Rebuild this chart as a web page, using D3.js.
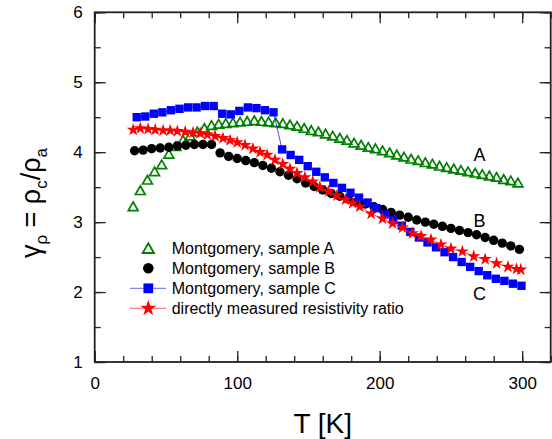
<!DOCTYPE html>
<html>
<head>
<meta charset="utf-8">
<script src="https://cdn.jsdelivr.net/npm/d3@7"></script>
<style>
body { margin: 0; background: #fff; }
svg { font-family: "Liberation Sans", Arial, sans-serif; }
</style>
</head>
<body>
<div id="chart"></div>
<script>
// Montgomery, sample A (open triangles)
var sampleA_T = [27, 32, 37, 42, 47, 52, 57, 62, 67, 72, 77, 82, 87, 92, 97, 102, 107, 112, 117, 122, 127, 132, 137, 142, 147, 152, 157, 162, 167, 172, 177, 182, 187, 192, 197, 202, 207, 212, 217, 222, 227, 232, 237, 242, 247, 252, 257, 262, 267, 272, 277, 282, 287, 292, 297];
var sampleA_V = [3.22, 3.45, 3.60, 3.72, 3.82, 3.97, 4.08, 4.17, 4.23, 4.29, 4.34, 4.38, 4.40, 4.41, 4.42, 4.43, 4.44, 4.45, 4.44, 4.43, 4.42, 4.41, 4.39, 4.37, 4.34, 4.31, 4.29, 4.26, 4.23, 4.20, 4.17, 4.13, 4.10, 4.07, 4.05, 4.02, 3.99, 3.96, 3.93, 3.90, 3.88, 3.85, 3.83, 3.80, 3.78, 3.76, 3.74, 3.72, 3.70, 3.68, 3.66, 3.64, 3.61, 3.59, 3.56];

// Montgomery, sample B (filled circles)
var sampleB_T = [28, 34, 40, 46, 52, 58, 64, 70, 76, 82, 88, 94, 100, 106, 112, 118, 124, 130, 136, 142, 148, 154, 160, 166, 172, 178, 184, 190, 196, 202, 208, 214, 220, 226, 232, 238, 244, 250, 256, 262, 268, 274, 280, 286, 292, 298];
var sampleB_V = [4.02, 4.03, 4.05, 4.06, 4.07, 4.09, 4.10, 4.11, 4.11, 4.11, 3.99, 3.94, 3.91, 3.88, 3.85, 3.81, 3.77, 3.72, 3.67, 3.62, 3.56, 3.51, 3.46, 3.41, 3.37, 3.33, 3.29, 3.26, 3.22, 3.18, 3.14, 3.10, 3.07, 3.03, 3.00, 2.97, 2.94, 2.91, 2.88, 2.85, 2.82, 2.78, 2.74, 2.70, 2.66, 2.61];

// Montgomery, sample C (filled squares + line)
var sampleC_T = [29.5, 35.5, 41.5, 47.5, 53.5, 59.5, 65.5, 71.5, 77.5, 83.5, 89.5, 95.5, 101.5, 107.5, 113.5, 119.5, 125.5, 131.5, 137.5, 143.5, 149.5, 155.5, 161.5, 167.5, 173.5, 179.5, 185.5, 191.5, 197.5, 203.5, 209.5, 215.5, 221.5, 227.5, 233.5, 239.5, 245.5, 251.5, 257.5, 263.5, 269.5, 275.5, 281.5, 287.5, 293.5, 299.5];
var sampleC_V = [4.50, 4.51, 4.55, 4.57, 4.60, 4.62, 4.64, 4.64, 4.66, 4.66, 4.55, 4.54, 4.59, 4.64, 4.63, 4.60, 4.57, 4.04, 3.96, 3.89, 3.80, 3.72, 3.64, 3.56, 3.49, 3.42, 3.35, 3.28, 3.20, 3.11, 3.03, 2.95, 2.86, 2.78, 2.71, 2.64, 2.57, 2.50, 2.43, 2.36, 2.30, 2.24, 2.19, 2.16, 2.12, 2.09];

// directly measured resistivity ratio (stars + line)
var direct_T = [27, 32, 37.5, 42.5, 48, 53, 58, 63.5, 69, 74, 79, 84.5, 90, 95, 100, 105.5, 111, 116, 121, 126.5, 132, 137, 142, 147.5, 153, 158, 164, 170, 176, 181, 186, 194, 202, 209, 216, 223, 229, 236, 243, 250, 258, 266, 274, 282, 290, 296, 299];
var direct_V = [4.32, 4.34, 4.33, 4.32, 4.31, 4.31, 4.30, 4.29, 4.28, 4.27, 4.25, 4.23, 4.20, 4.17, 4.14, 4.10, 4.05, 4.00, 3.96, 3.89, 3.83, 3.76, 3.70, 3.64, 3.58, 3.50, 3.44, 3.38, 3.32, 3.27, 3.22, 3.12, 3.05, 2.98, 2.92, 2.84, 2.80, 2.75, 2.68, 2.62, 2.58, 2.51, 2.47, 2.41, 2.36, 2.33, 2.32];

var seriesNames = ["Montgomery, sample A", "Montgomery, sample B", "Montgomery, sample C", "directly measured resistivity ratio"];
var curveLetters = ["A", "B", "C"];
var xMajorTicks = [0, 100, 200, 300];
var yMajorTicks = [1, 2, 3, 4, 5, 6];

var width = 552, height = 439;
var x = d3.scaleLinear().domain([0, 320]).range([94.7, 550.7]);
var y = d3.scaleLinear().domain([1, 6]).range([362, 12.3]);

var svg = d3.select("#chart")
	.append("svg")
	.attr("width", width)
	.attr("height", height);

var xMinor = d3.range(0, 321, 20);
var yMinor = d3.range(1, 6.01, 0.5);
var frameColor = "#222";

function styleAxis(g) {
	g.select(".domain").remove();
	g.selectAll(".tick line").attr("stroke", frameColor).attr("stroke-width", 1.3);
	g.selectAll("text").attr("font-size", 17).attr("fill", "#000").attr("font-family", "Liberation Sans, Arial, sans-serif");
}

// minor ticks on all four sides
svg.append("g").attr("transform", "translate(0,362)")
	.call(d3.axisBottom(x).tickValues(xMinor).tickSize(-6).tickFormat(""))
	.call(styleAxis);
svg.append("g").attr("transform", "translate(0,12.3)")
	.call(d3.axisTop(x).tickValues(xMinor).tickSize(-6).tickFormat(""))
	.call(styleAxis);
svg.append("g").attr("transform", "translate(94.7,0)")
	.call(d3.axisLeft(y).tickValues(yMinor).tickSize(-6).tickFormat(""))
	.call(styleAxis);
svg.append("g").attr("transform", "translate(550.7,0)")
	.call(d3.axisRight(y).tickValues(yMinor).tickSize(-6).tickFormat(""))
	.call(styleAxis);

// major ticks
svg.append("g").attr("transform", "translate(0,362)")
	.call(d3.axisBottom(x).tickValues(xMajorTicks).tickSize(-11).tickPadding(15).tickFormat(d3.format("d")))
	.call(styleAxis);
svg.append("g").attr("transform", "translate(0,12.3)")
	.call(d3.axisTop(x).tickValues(xMajorTicks).tickSize(-11).tickFormat(""))
	.call(styleAxis);
svg.append("g").attr("transform", "translate(94.7,0)")
	.call(d3.axisLeft(y).tickValues(yMajorTicks).tickSize(-11).tickPadding(12).tickFormat(d3.format("d")))
	.call(styleAxis);
svg.append("g").attr("transform", "translate(550.7,0)")
	.call(d3.axisRight(y).tickValues(yMajorTicks).tickSize(-11).tickFormat(""))
	.call(styleAxis);

// frame
svg.append("rect")
	.attr("x", x(0))
	.attr("y", y(6))
	.attr("width", x(320) - x(0))
	.attr("height", y(1) - y(6))
	.attr("fill", "none")
	.attr("stroke", frameColor)
	.attr("stroke-width", 1.8);

var plot = svg.append("g");

function pairs(ts, vs) {
	return ts.map(function (t, i) { return [t, vs[i]]; });
}

var line = d3.line()
	.x(function (d) { return x(d[0]); })
	.y(function (d) { return y(d[1]); });

var triangle = d3.symbol().type(d3.symbolTriangle).size(42);
var square = d3.symbol().type(d3.symbolSquare).size(70);
var star = d3.symbol().type(d3.symbolStar).size(52);

var dataA = pairs(sampleA_T, sampleA_V);
var dataB = pairs(sampleB_T, sampleB_V);
var dataC = pairs(sampleC_T, sampleC_V);
var dataD = pairs(direct_T, direct_V);

// A - open green triangles
plot.append("g").selectAll("path")
	.data(dataA)
	.enter().append("path")
	.attr("d", triangle)
	.attr("transform", function (d) { return "translate(" + x(d[0]) + "," + (y(d[1]) + 1) + ")"; })
	.attr("fill", "none")
	.attr("stroke", "#008000")
	.attr("stroke-width", 1.7);

// B - black circles
plot.append("g").selectAll("circle")
	.data(dataB)
	.enter().append("circle")
	.attr("cx", function (d) { return x(d[0]); })
	.attr("cy", function (d) { return y(d[1]); })
	.attr("r", 4.7)
	.attr("fill", "#000");

// C - blue line + squares
plot.append("path")
	.datum(dataC)
	.attr("d", line)
	.attr("fill", "none")
	.attr("stroke", "#0000ff")
	.attr("stroke-opacity", 0.7)
	.attr("stroke-width", 1);
plot.append("g").selectAll("path")
	.data(dataC)
	.enter().append("path")
	.attr("d", square)
	.attr("transform", function (d) { return "translate(" + x(d[0]) + "," + y(d[1]) + ")"; })
	.attr("fill", "#0000ff");

// D - red line + stars
plot.append("path")
	.datum(dataD)
	.attr("d", line)
	.attr("fill", "none")
	.attr("stroke", "#ff0000")
	.attr("stroke-opacity", 0.7)
	.attr("stroke-width", 1);
plot.append("g").selectAll("path")
	.data(dataD)
	.enter().append("path")
	.attr("d", star)
	.attr("transform", function (d) { return "translate(" + x(d[0]) + "," + y(d[1]) + ")"; })
	.attr("fill", "#ff0000");

// curve letters
var letterPos = [[270, 3.96], [270, 3.02], [270, 1.98]];
svg.append("g").selectAll("text")
	.data(curveLetters)
	.enter().append("text")
	.attr("x", function (d, i) { return x(letterPos[i][0]); })
	.attr("y", function (d, i) { return y(letterPos[i][1]); })
	.attr("dy", "0.36em")
	.attr("text-anchor", "middle")
	.attr("font-size", 18)
	.text(function (d) { return d; });

// legend
var legend = svg.append("g");
var legendY = [248.3, 268.3, 288.3, 308.3];
seriesNames.forEach(function (name, i) {
	var g = legend.append("g").attr("transform", "translate(0," + legendY[i] + ")");
	if (i === 2 || i === 3) {
		g.append("line")
			.attr("x1", 130).attr("x2", 166)
			.attr("y1", 0).attr("y2", 0)
			.attr("stroke", i === 2 ? "#0000ff" : "#ff0000")
			.attr("stroke-opacity", 0.6)
			.attr("stroke-width", 1);
	}
	if (i === 0) {
		g.append("path").attr("d", d3.symbol().type(d3.symbolTriangle).size(55))
			.attr("transform", "translate(148.3,1.5)")
			.attr("fill", "none").attr("stroke", "#008000").attr("stroke-width", 1.9);
	} else if (i === 1) {
		g.append("circle").attr("cx", 148.3).attr("cy", 0).attr("r", 5.3).attr("fill", "#000");
	} else if (i === 2) {
		g.append("path").attr("d", d3.symbol().type(d3.symbolSquare).size(95))
			.attr("transform", "translate(148.3,0)").attr("fill", "#0000ff");
	} else {
		g.append("path").attr("d", d3.symbol().type(d3.symbolStar).size(80))
			.attr("transform", "translate(148.3,0)").attr("fill", "#ff0000");
	}
	g.append("text")
		.attr("x", 171.7)
		.attr("y", 0)
		.attr("dy", "0.36em")
		.attr("font-size", 16)
		.text(name);
});

// axis titles
svg.append("text")
	.attr("x", (x(0) + x(320)) / 2)
	.attr("y", 433)
	.attr("text-anchor", "middle")
	.attr("font-size", 28)
	.text("T [K]");

var yTitle = svg.append("text")
	.attr("transform", "translate(40,203) rotate(-90)")
	.attr("text-anchor", "middle")
	.attr("font-size", 27);
yTitle.append("tspan").text("γ");
yTitle.append("tspan").attr("font-size", 17).attr("dy", 7).text("ρ");
yTitle.append("tspan").attr("dy", -7).text(" = ρ");
yTitle.append("tspan").attr("font-size", 17).attr("dy", 7).text("c");
yTitle.append("tspan").attr("dy", -7).text("/ρ");
yTitle.append("tspan").attr("font-size", 17).attr("dy", 7).text("a");
</script>
</body>
</html>
